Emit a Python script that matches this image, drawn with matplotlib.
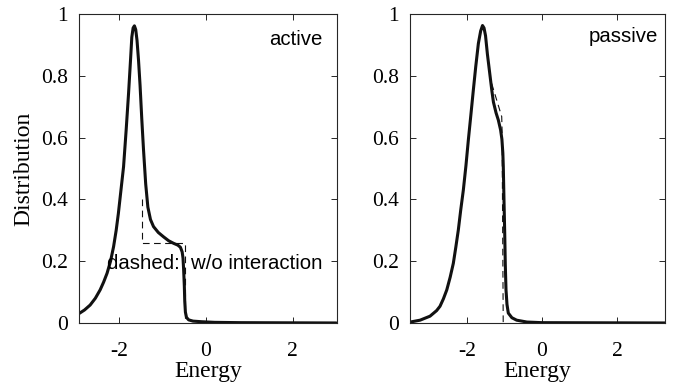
import matplotlib
matplotlib.use('Agg')
import matplotlib.pyplot as plt

# active: solid curve (with interaction)
act_x = [-2.92, -2.80, -2.67, -2.55, -2.44, -2.36, -2.28, -2.20, -2.13, -2.07, -2.02,
         -1.96, -1.90, -1.84, -1.785, -1.74, -1.71, -1.68, -1.65, -1.62, -1.59, -1.555,
         -1.52, -1.48, -1.44, -1.39, -1.34, -1.28, -1.21, -1.10, -0.98, -0.86, -0.75,
         -0.65, -0.59, -0.55, -0.53, -0.515, -0.50, -0.49, -0.475, -0.45, -0.40, -0.30,
         -0.10, 0.20, 0.80, 3.0]
act_y = [0.031, 0.042, 0.058, 0.080, 0.107, 0.132, 0.161, 0.200, 0.247, 0.300, 0.354,
         0.430, 0.506, 0.625, 0.743, 0.850, 0.925, 0.955, 0.962, 0.950, 0.915, 0.850,
         0.770, 0.660, 0.560, 0.450, 0.375, 0.335, 0.312, 0.293, 0.279, 0.266, 0.258,
         0.252, 0.245, 0.230, 0.210, 0.170, 0.120, 0.070, 0.035, 0.018, 0.010, 0.006,
         0.004, 0.002, 0.001, 0.0]
# active: dashed (w/o interaction)
act_dx = [-1.48, -1.48, -0.495, -0.495]
act_dy = [0.40, 0.258, 0.258, 0.0]

# passive: solid curve
pas_x = [-3.50, -3.24, -2.975, -2.80, -2.71, -2.62, -2.53, -2.44, -2.356, -2.29, -2.223,
         -2.16, -2.09, -2.02, -1.957, -1.89, -1.824, -1.76, -1.69, -1.63, -1.58, -1.54,
         -1.50, -1.45, -1.38, -1.33, -1.29, -1.22, -1.16, -1.10, -1.065, -1.04, -1.028,
         -1.01, -0.99, -0.975, -0.956, -0.93, -0.895, -0.80, -0.672, -0.40, 0.0, 3.27]
pas_y = [0.003, 0.009, 0.022, 0.040, 0.054, 0.078, 0.107, 0.148, 0.193, 0.245, 0.301,
         0.365, 0.430, 0.510, 0.592, 0.673, 0.754, 0.830, 0.905, 0.945, 0.963, 0.955,
         0.930, 0.870, 0.800, 0.750, 0.715, 0.680, 0.657, 0.625, 0.595, 0.550, 0.507,
         0.400, 0.290, 0.190, 0.107, 0.060, 0.032, 0.017, 0.009, 0.003, 0.001, 0.0]
# passive: dashed
pas_dx = [-1.336, -1.07, -1.06, -1.03]
pas_dy = [0.775, 0.668, 0.62, 0.0]

xticks = [-2, 0, 2]
xticklabels = ['-2', '0', '2']
yticks = [0, 0.2, 0.4, 0.6, 0.8, 1]
yticklabels = ['0', '0.2', '0.4', '0.6', '0.8', '1']

serif = 'Liberation Serif'
sans = 'Liberation Sans'


def styleAxes(ax, xlim):
    ax.set_xlim(xlim)
    ax.set_ylim(0, 1)
    ax.set_xticks(xticks)
    ax.set_xticklabels(xticklabels, fontfamily=serif, fontsize=15.5)
    ax.set_yticks(yticks)
    ax.set_yticklabels(yticklabels, fontfamily=serif, fontsize=15.5)
    ax.tick_params(direction='in', top=True, right=True, length=4, width=0.7,
                   color='#262626')
    ax.tick_params(axis='x', pad=14)
    ax.tick_params(axis='y', pad=8)
    for s in ax.spines.values():
        s.set_linewidth(0.8)
        s.set_color('#262626')
    ax.set_xlabel('Energy', fontfamily=serif, fontsize=17, labelpad=0)


fig = plt.figure(figsize=(6.8, 3.91), dpi=100)
ax1 = fig.add_axes([0.1166, 0.174, 0.3785, 0.790])
ax2 = fig.add_axes([0.603, 0.174, 0.375, 0.790])

ax1.plot(act_dx, act_dy, color='#111111', lw=0.8, dashes=(6, 4))
ax1.plot(act_x, act_y, color='#111111', lw=2.2, solid_capstyle='round')
styleAxes(ax1, (-2.92, 3.01))
ax1.set_ylabel('Distribution', fontfamily=serif, fontsize=17, labelpad=5)
ax1.text(2.69, 0.919, 'active', ha='right', va='center', fontfamily=sans, fontsize=14.7)
ax1.text(2.69, 0.194, 'dashed:  w/o interaction', ha='right', va='center',
         fontfamily=sans, fontsize=14.7)

ax2.plot(pas_dx, pas_dy, color='#111111', lw=0.8, dashes=(6, 4))
ax2.plot(pas_x, pas_y, color='#111111', lw=2.2, solid_capstyle='round')
styleAxes(ax2, (-3.506, 3.27))
ax2.text(3.09, 0.929, 'passive', ha='right', va='center', fontfamily=sans, fontsize=14.7)

fig.savefig('out.png', dpi=100)
